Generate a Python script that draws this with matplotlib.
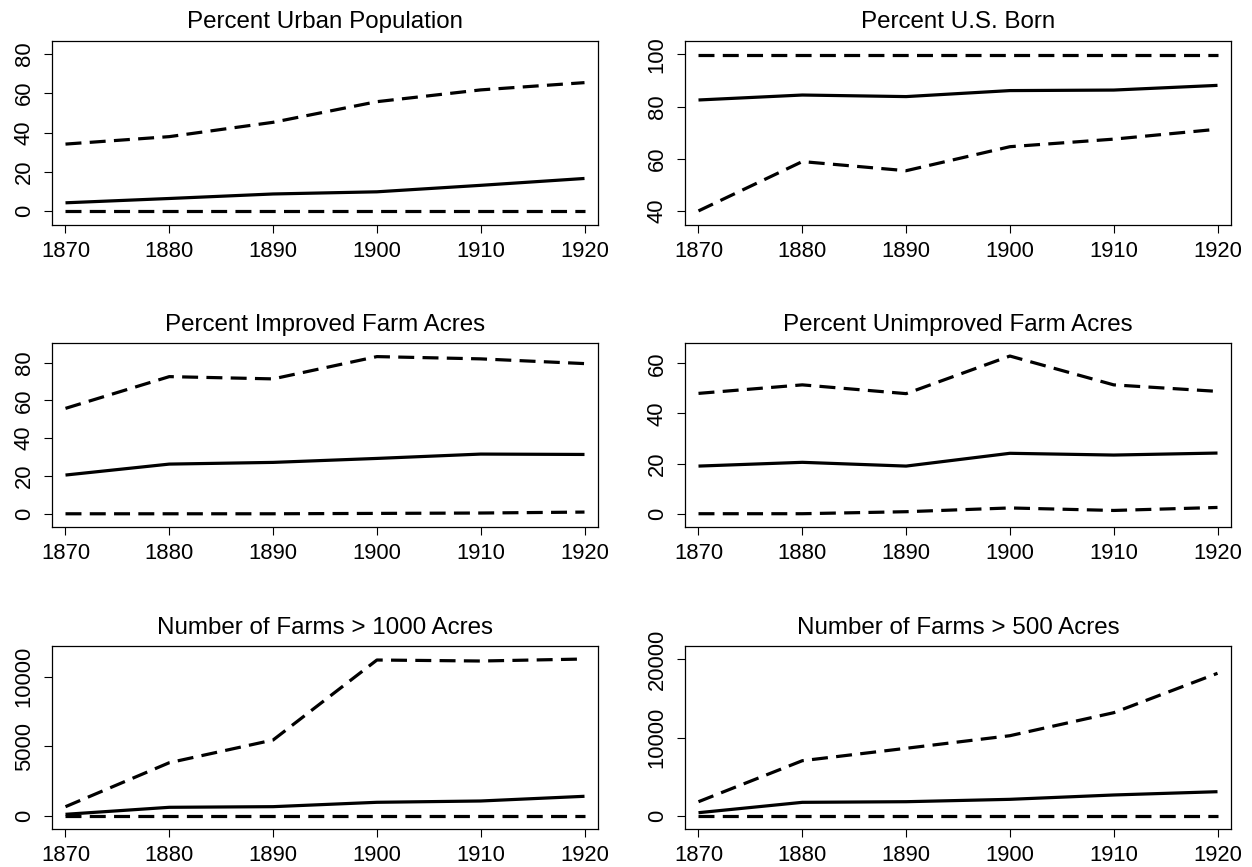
import matplotlib.pyplot as plt
import numpy as np

plt.rcParams['font.family'] = ['Liberation Sans', 'DejaVu Sans']

years = [1870, 1880, 1890, 1900, 1910, 1920]

titles = ["Percent Urban Population", "Percent U.S. Born",
          "Percent Improved Farm Acres", "Percent Unimproved Farm Acres",
          "Number of Farms > 1000 Acres", "Number of Farms > 500 Acres"]

# mean (solid), max and min (dashed)
urban_mean = [4.2, 6.4, 8.7, 9.8, 13.1, 16.6]
urban_max = [34.1, 37.9, 45.2, 55.7, 61.7, 65.4]
urban_min = [0, 0, 0, 0, 0, 0]

born_mean = [82.5, 84.4, 83.8, 86.1, 86.3, 88.1]
born_max = [99.7, 99.7, 99.7, 99.7, 99.7, 99.7]
born_min = [40.0, 58.9, 55.4, 64.6, 67.5, 71.3]

improved_mean = [20.5, 26.3, 27.2, 29.3, 31.6, 31.4]
improved_max = [55.8, 72.6, 71.4, 83.2, 82.0, 79.5]
improved_min = [0, 0, 0, 0.2, 0.4, 0.9]

unimproved_mean = [19.0, 20.5, 19.0, 24.1, 23.4, 24.2]
unimproved_max = [48.0, 51.4, 47.9, 62.9, 51.4, 48.8]
unimproved_min = [0, 0, 0.8, 2.3, 1.3, 2.5]

farms1000_mean = [100, 604, 650, 964, 1058, 1396]
farms1000_max = [648, 3813, 5446, 11201, 11129, 11273]
farms1000_min = [0, 0, 0, 0, 0, 0]

farms500_mean = [384, 1710, 1790, 2094, 2650, 3070]
farms500_max = [1790, 7033, 8619, 10230, 13171, 18210]
farms500_min = [0, 0, 0, 0, 0, 0]

series = [(urban_mean, urban_max, urban_min),
          (born_mean, born_max, born_min),
          (improved_mean, improved_max, improved_min),
          (unimproved_mean, unimproved_max, unimproved_min),
          (farms1000_mean, farms1000_max, farms1000_min),
          (farms500_mean, farms500_max, farms500_min)]

ylims = [(-7.1, 86.6), (34.6, 105.1), (-7.0, 90.4),
         (-5.3, 68.1), (-957, 12209), (-1700, 21700)]
yticks = [[0, 20, 40, 60, 80], [40, 60, 80, 100], [0, 20, 40, 60, 80],
          [0, 20, 40, 60], [0, 5000, 10000], [0, 10000, 20000]]

W, H = 1252, 867
fig = plt.figure(figsize=(W / 100, H / 100), dpi=100)

lefts = [52, 685]
rights = [598, 1231]
tops = [41, 343, 646]
bottoms = [225, 527, 829]

fs = 15.8
for i in range(6):
    r, c = divmod(i, 2)
    ax = fig.add_axes([lefts[c] / W, 1 - bottoms[r] / H,
                       (rights[c] - lefts[c]) / W, (bottoms[r] - tops[r]) / H])
    m, hi, lo = series[i]
    ax.plot(years, m, color='black', lw=2.3, solid_capstyle='butt')
    ax.plot(years, hi, color='black', lw=2.3, dashes=(5.0, 2.6))
    ax.plot(years, lo, color='black', lw=2.3, dashes=(5.0, 2.6))
    ax.set_xlim(1868.7, 1921.3)
    ax.set_ylim(*ylims[i])
    ax.set_xticks(years)
    ax.set_yticks(yticks[i])
    ax.set_yticklabels([str(v) for v in yticks[i]], rotation=90, va='center')
    ax.tick_params(direction='out', length=5.5, width=0.8, labelsize=fs, pad=6)
    ax.tick_params(axis='y', pad=7)
    for s in ax.spines.values():
        s.set_linewidth(0.9)
    ax.set_title(titles[i], fontsize=17.4, pad=9)

fig.savefig('out.png', dpi=100)
